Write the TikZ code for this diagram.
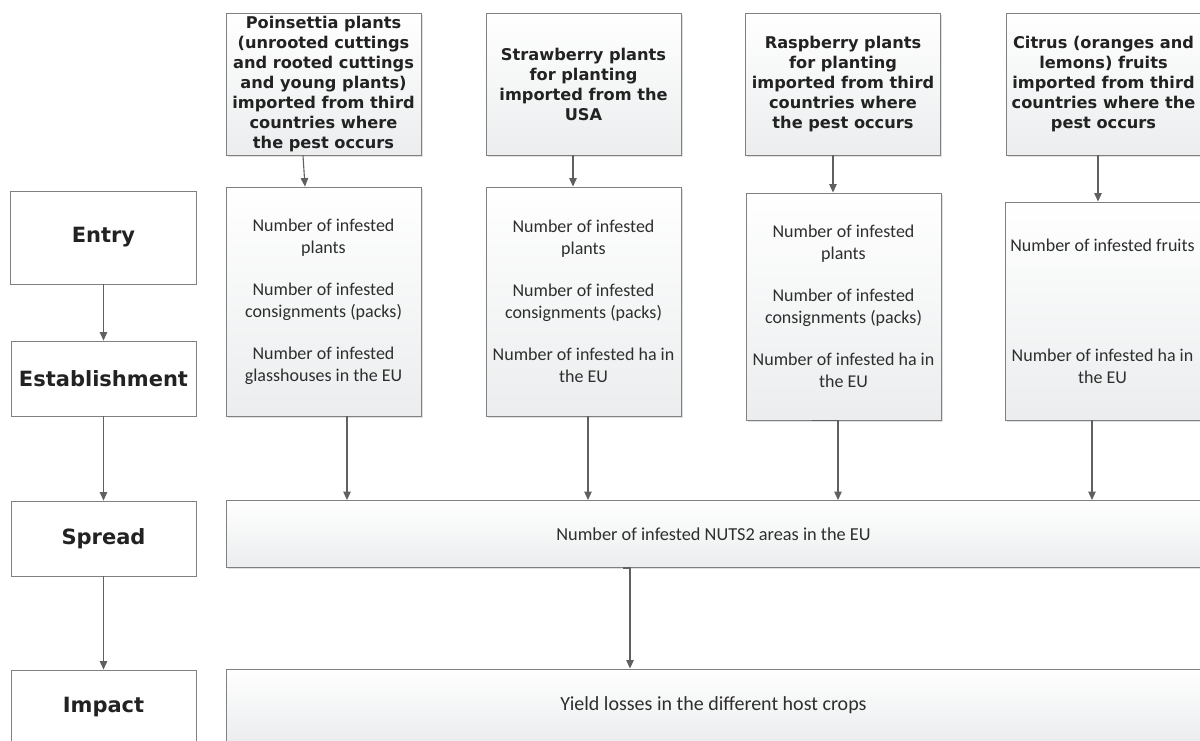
\documentclass[tikz,border=0pt]{standalone}
\usepackage{fontspec}
\setmainfont{Carlito}
\newfontfamily\verd{DejaVu Sans}
\usetikzlibrary{arrows.meta,shadows}
\definecolor{edgegray}{HTML}{808080}
\definecolor{arrowgray}{HTML}{606060}
\definecolor{shadegray}{HTML}{EBEDEE}
\definecolor{inkgray}{HTML}{222222}

\begin{document}
\begin{tikzpicture}
[every node/.style={inner sep=0pt, align=center},
 stage/.style={draw=edgegray, fill=white, line width=0.9pt, font=\verd\bfseries\fontsize{21}{25}\selectfont, text=inkgray},
 source/.style={draw=edgegray, line width=0.9pt, top color=white, bottom color=shadegray, drop shadow={shadow xshift=1.5pt, shadow yshift=-1.5pt, fill=black, opacity=0.12}, minimum width=195pt, font=\verd\bfseries\fontsize{16.2}{20}\selectfont, text=inkgray},
 count/.style={source, font=\fontsize{18}{22}\selectfont, text=black!82},
 row/.style={count, minimum width=975pt},
 link/.style={draw=arrowgray, line width=1.1pt, -{Triangle[width=7.5pt,length=8.5pt]}}]
\useasboundingbox (0pt, 0pt) rectangle (1200pt, -740pt);
\node (entry) [stage, minimum width=186pt, minimum height=93pt] at (103.5pt, -237.5pt) {Entry};
\node (estab) [stage, minimum width=185pt, minimum height=75pt] at (103.5pt, -378.5pt) {Establishment};
\node (spread) [stage, minimum width=185pt, minimum height=75pt] at (103.5pt, -538.5pt) {Spread};
\node (impact) [stage, minimum width=185pt, minimum height=75pt] at (103.5pt, -707.5pt) {Impact};
\node (h1) [source, minimum height=142pt] at (323.5pt, -84.0pt) {Poinsettia plants\\(unrooted cuttings\\and rooted cuttings\\and young plants)\\imported from third\\countries where\\the pest occurs};
\node (h2) [source, minimum height=142pt] at (583.5pt, -84.0pt) {Strawberry plants\\for planting\\imported from the\\USA};
\node (h3) [source, minimum height=142pt] at (843.0pt, -84.0pt) {Raspberry plants\\for planting\\imported from third\\countries where\\the pest occurs};
\node (h4) [source, minimum height=142pt] at (1103.5pt, -84.0pt) {Citrus (oranges and\\lemons) fruits\\imported from third\\countries where the\\pest occurs};
\node (c1) [count, minimum height=229pt] at (323.5pt, -301.5pt) {Number of infested\\plants\\[20pt]Number of infested\\consignments (packs)\\[20pt]Number of infested\\glasshouses in the EU};
\node (c2) [count, minimum height=229pt] at (583.5pt, -301.5pt) {Number of infested\\plants\\[20pt]Number of infested\\consignments (packs)\\[20pt]Number of infested ha in\\the EU};
\node (c3) [count, minimum height=227pt] at (843.5pt, -306.5pt) {Number of infested\\plants\\[20pt]Number of infested\\consignments (packs)\\[20pt]Number of infested ha in\\the EU};
\node (c4) [count, minimum height=218pt] at (1102.5pt, -311.0pt) {Number of infested fruits\\[88pt]Number of infested ha in\\the EU};
\node (spreadrow) [row, minimum height=67pt, font=\fontsize{18.3}{22}\selectfont] at (713.5pt, -534.0pt) {Number of infested NUTS2 areas in the EU};
\node (impactrow) [row, minimum height=72pt, font=\fontsize{20}{24}\selectfont] at (713.5pt, -705.0pt) {Yield losses in the different host crops};
\draw [link] (entry) to (estab);
\draw [link] (estab) to (spread);
\draw [link] (spread) to (impact);
\draw [link] ([xshift=-20.5pt]h1.south) to ([xshift=-18.5pt]c1.north);
\draw [link] ([xshift=-10.5pt]h2.south) to ([xshift=-10.5pt]c2.north);
\draw [link] ([xshift=-10.0pt]h3.south) to ([xshift=-10.5pt]c3.north);
\draw [link] ([xshift=-5.5pt]h4.south) to ([xshift=-4.5pt]c4.north);
\draw [link] ([xshift=23.5pt]c1.south) to ([xshift=-366.5pt]spreadrow.north);
\draw [link] ([xshift=4.5pt]c2.south) to ([xshift=-125.5pt]spreadrow.north);
\draw [link] ([xshift=-31.5pt]c3.south) -| ([xshift=124.5pt]spreadrow.north);
\draw [link] ([xshift=-10.5pt]c4.south) to ([xshift=378.5pt]spreadrow.north);
\draw [link] ([xshift=-90.5pt]spreadrow.south) -| ([xshift=-83.5pt]impactrow.north);
\end{tikzpicture}
\end{document}
